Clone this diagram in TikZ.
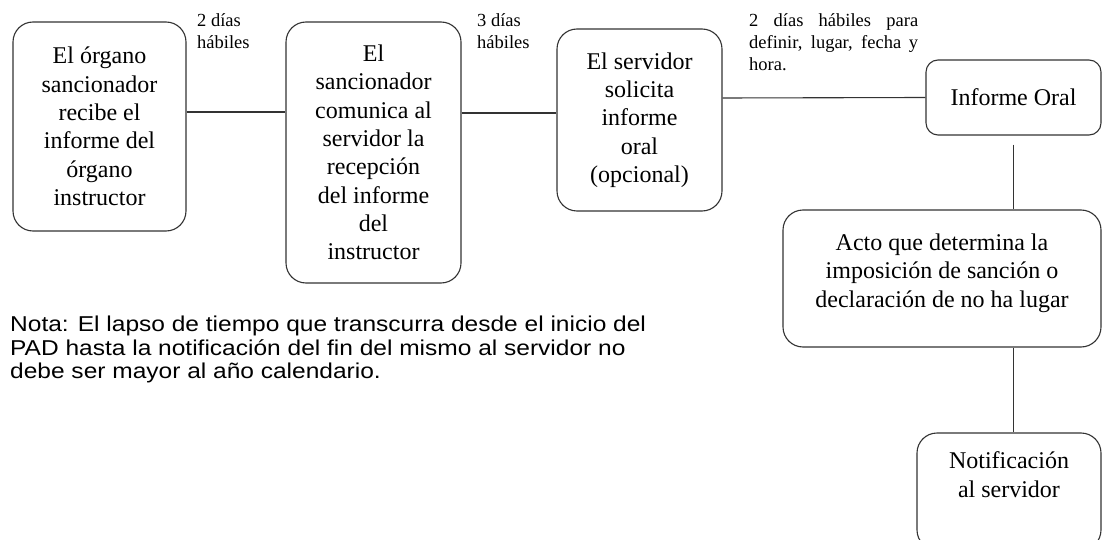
\documentclass[tikz,border=0pt]{standalone}
\usepackage{fontspec}
\setmainfont{Liberation Serif}
\newfontfamily\notafont[FakeStretch=1.14]{Liberation Sans}
\tikzset{
  caja/.style={draw=black!80, line width=1.1pt, rounded corners=20pt, align=center,
    inner sep=0pt, font=\fontsize{24}{28.3}\selectfont},
  plazo/.style={anchor=north west, inner sep=0pt, align=left,
    font=\fontsize{18.5}{22}\selectfont},
  linea/.style={draw=black!80, line width=1.1pt}
}
\begin{document}
\begin{tikzpicture}[x=1pt,y=-1pt]
\fill[white] (0,0) rectangle (1103,540);
\useasboundingbox (0,0) rectangle (1103,540);
\node[caja, minimum width=173, minimum height=209] (recibe) at (99.5,126.5)
  {El órgano\\sancionador\\recibe el\\informe del\\órgano\\instructor};
\node[caja, minimum width=175, minimum height=261] (comunica) at (373.5,152.5)
  {El\\sancionador\\comunica al\\servidor la\\recepción\\del informe\\del\\instructor};
\node[caja, minimum width=165, minimum height=182] (solicita) at (639.5,120)
  {El servidor\\solicita\\informe\\oral\\(opcional)};
\node[caja, rounded corners=12pt, minimum width=175, minimum height=75] (oral) at (1013.5,97.5)
  {Informe Oral};
\node[caja, minimum width=318, minimum height=137, text depth=16] (acto) at (942,278.5)
  {Acto que determina la\\imposición de sanción o\\declaración de no ha lugar};
\node[caja, minimum width=184, minimum height=117, text depth=34] (notif) at (1009,491.5)
  {Notificación\\al servidor};
\node[plazo] (plazoA) at (197,13.5) {2 días\\hábiles};
\node[plazo] (plazoB) at (477,13.5) {3 días\\hábiles};
\node[plazo, text width=169, align=justify] (plazoC) at (749,13.5)
  {2 días hábiles para\linebreak definir, lugar, fecha y\linebreak hora.};
\node[anchor=north west, inner sep=0pt, align=left, font=\notafont\fontsize{21.5}{23.5}\selectfont] (nota) at (10,316)
  {Nota: El lapso de tiempo que transcurra desde el inicio del\\PAD hasta la notificación del fin del mismo al servidor no\\debe ser mayor al año calendario.};
\draw[linea] ([yshift=14.5]recibe.east) -- ([yshift=40.5]comunica.west);
\draw[linea] ([yshift=39.5]comunica.east) -- ([yshift=7]solicita.west);
\draw[linea] ([yshift=22]solicita.east) -- (oral.west);
\draw[linea] ([yshift=-9]oral.south) -- (oral.south |- acto.north);
\draw[linea] (acto.south -| oral.south) -- (notif.north -| oral.south);
\end{tikzpicture}
\end{document}
